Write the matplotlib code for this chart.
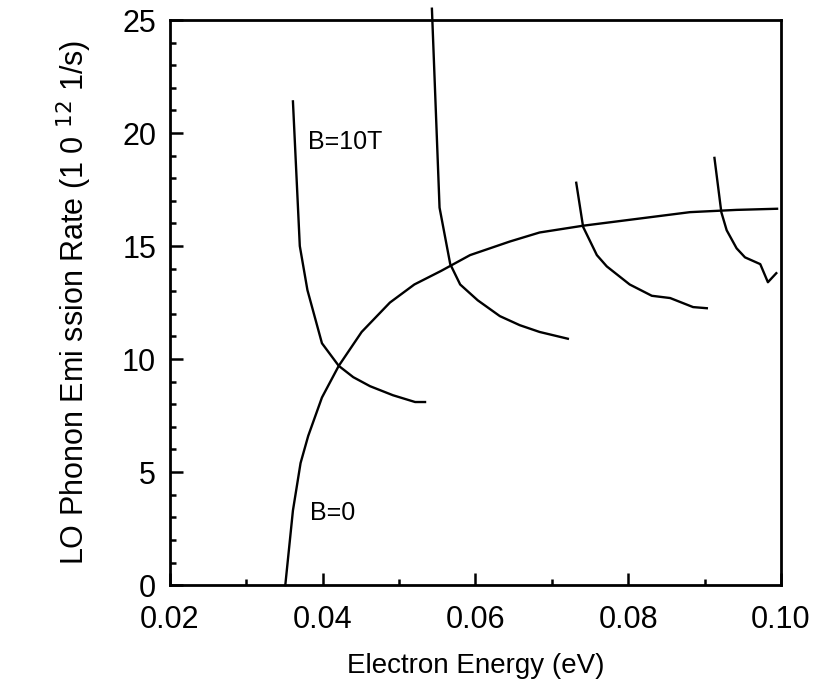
import matplotlib
matplotlib.use("Agg")
from matplotlib import pyplot as plt
from matplotlib.ticker import MultipleLocator

plt.rcParams['font.family'] = ['Liberation Sans', 'DejaVu Sans']

# B=0 curve
b0_e = [0.0351, 0.0361, 0.0371, 0.0381, 0.0399, 0.0421, 0.0451, 0.0488, 0.0520,
        0.0555, 0.0593, 0.0645, 0.0684, 0.0741, 0.0811, 0.0881, 0.0942, 0.0995]
b0_r = [0.0, 3.3, 5.4, 6.6, 8.3, 9.7, 11.2, 12.5, 13.3,
        13.9, 14.6, 15.2, 15.6, 15.9, 16.2, 16.5, 16.6, 16.65]

# B=10T branches (one per Landau level)
l1_e = [0.0361, 0.0370, 0.0380, 0.0399, 0.0421, 0.0440, 0.0462, 0.0492, 0.0521, 0.0534]
l1_r = [21.4, 15.0, 13.05, 10.7, 9.7, 9.2, 8.8, 8.4, 8.1, 8.1]

l2_e = [0.0543, 0.0553, 0.0567, 0.0580, 0.0603, 0.0632, 0.0658, 0.0684, 0.0721]
l2_r = [25.5, 16.7, 14.2, 13.3, 12.6, 11.9, 11.5, 11.2, 10.9]

l3_e = [0.0732, 0.0741, 0.0759, 0.0772, 0.0802, 0.0831, 0.0855, 0.0885, 0.0903]
l3_r = [17.8, 15.85, 14.6, 14.1, 13.3, 12.8, 12.7, 12.3, 12.25]

l4_e = [0.0913, 0.0922, 0.0929, 0.0942, 0.0953, 0.0973, 0.0983, 0.0994]
l4_r = [18.9, 16.5, 15.7, 14.9, 14.5, 14.2, 13.4, 13.8]

fig = plt.figure(figsize=(8.2, 6.9), dpi=100)
ax = fig.add_axes([0.2073, 0.152, 0.745, 0.819])

for xs, ys in [(b0_e, b0_r), (l1_e, l1_r), (l2_e, l2_r), (l3_e, l3_r), (l4_e, l4_r)]:
    ax.plot(xs, ys, color='black', lw=1.7, clip_on=False)

ax.text(0.0381, 19.6, "B=10T", fontsize=18, va='center')
ax.text(0.0383, 3.2, "B=0", fontsize=18, va='center')

ax.set_xlim(0.02, 0.10)
ax.set_ylim(0, 25)
ax.xaxis.set_major_locator(MultipleLocator(0.02))
ax.xaxis.set_minor_locator(MultipleLocator(0.01))
ax.yaxis.set_major_locator(MultipleLocator(5))
ax.yaxis.set_minor_locator(MultipleLocator(1))
ax.xaxis.set_major_formatter(plt.FuncFormatter(lambda v, p: "%.2f" % v))

ax.tick_params(which='both', direction='in', top=False, right=False, labelsize=22, width=1.8)
ax.tick_params(axis='x', which='major', length=9, pad=14)
ax.tick_params(axis='y', which='major', length=9, pad=10)
ax.tick_params(which='minor', length=4.5)
for s in ax.spines.values():
    s.set_linewidth(2)

ax.set_xlabel("Electron Energy (eV)", fontsize=20, labelpad=13)
ax.set_ylabel("LO Phonon Emi ssion Rate (1 0 $^{12}$ 1/s)", fontsize=22, labelpad=20)

plt.savefig("out.png", dpi=100)
